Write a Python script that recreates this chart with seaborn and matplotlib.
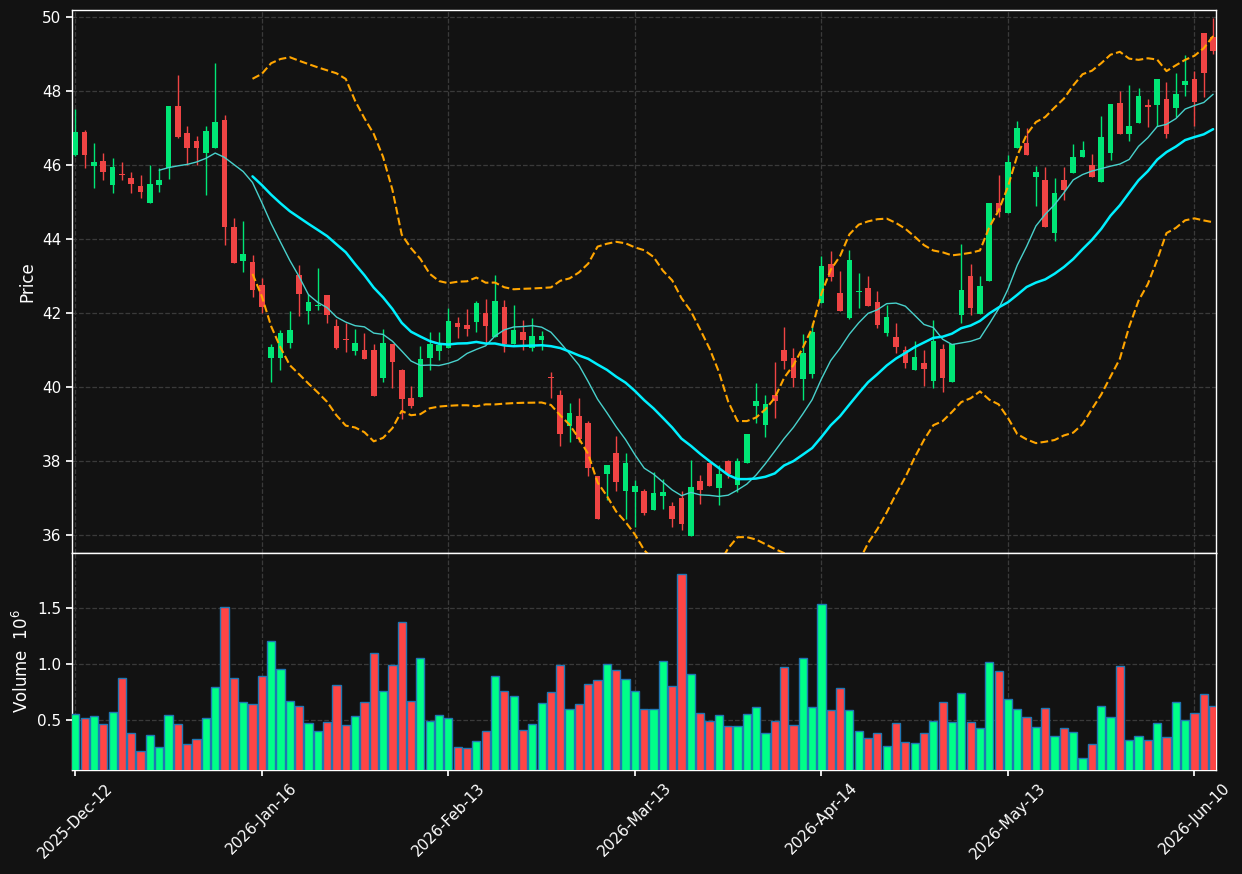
import numpy as np
import pandas as pd
import seaborn as sns
import matplotlib
matplotlib.use('Agg')
import matplotlib.pyplot as plt

# daily OHLC (123 sessions)
opens = [46.29, 46.90, 45.99, 46.12, 45.48, 45.75, 45.66, 45.44, 44.99, 45.48,
         45.94, 47.60, 46.87, 46.66, 46.34, 46.48, 47.23, 44.34, 43.40, 43.39,
         42.77, 40.80, 40.80, 41.21, 43.04, 42.06, 42.20, 42.50, 41.66, 41.31,
         40.99, 41.01, 41.01, 40.26, 41.16, 40.47, 39.71, 39.75, 40.80, 40.99,
         41.07, 41.74, 41.68, 41.77, 42.02, 41.36, 42.17, 41.17, 41.50, 41.07,
         41.27, 40.28, 39.79, 38.94, 39.23, 39.04, 37.60, 37.65, 38.21, 37.20,
         37.18, 37.20, 36.68, 37.07, 36.79, 37.01, 35.98, 37.47, 37.95, 37.29,
         38.01, 37.37, 37.96, 39.48, 38.99, 39.79, 41.01, 40.79, 40.23, 40.37,
         42.29, 43.32, 42.55, 41.88, 42.58, 42.69, 42.31, 41.47, 41.36, 41.01,
         40.48, 40.66, 40.17, 41.04, 40.14, 41.95, 43.01, 41.99, 42.86, 44.98,
         44.72, 46.46, 46.61, 45.68, 45.61, 44.16, 45.61, 45.78, 46.22, 46.02,
         45.54, 46.32, 47.69, 46.86, 47.14, 47.63, 47.62, 47.80, 47.54, 48.16,
         48.34, 49.59, 49.48]
highs = [47.53, 46.95, 46.59, 46.32, 46.19, 46.08, 45.81, 45.73, 46.00, 45.94,
         47.60, 48.43, 47.05, 46.78, 47.05, 48.77, 47.35, 44.57, 44.49, 43.57,
         42.96, 41.18, 41.54, 42.06, 43.30, 42.51, 43.22, 42.50, 41.84, 41.74,
         41.58, 41.46, 41.18, 41.58, 41.18, 40.50, 40.04, 41.12, 41.50, 41.50,
         42.14, 41.91, 42.11, 42.32, 42.38, 43.03, 42.35, 42.22, 41.83, 41.86,
         41.52, 40.40, 39.92, 39.57, 39.70, 39.09, 37.60, 37.90, 38.68, 38.23,
         37.49, 37.24, 37.71, 37.51, 36.90, 37.20, 38.03, 37.62, 37.95, 37.90,
         38.03, 38.08, 38.74, 40.11, 39.78, 40.67, 41.64, 41.07, 41.45, 41.75,
         43.55, 43.68, 43.14, 43.70, 43.08, 43.00, 42.60, 42.22, 41.74, 41.12,
         41.25, 41.00, 41.81, 41.18, 41.18, 43.86, 43.32, 43.01, 44.98, 45.74,
         46.28, 47.21, 47.01, 45.99, 45.96, 45.66, 45.96, 46.58, 46.67, 46.31,
         47.32, 47.67, 48.00, 48.17, 48.09, 47.79, 48.34, 48.26, 48.50, 48.99,
         48.54, 49.59, 49.98]
lows = [46.25, 45.94, 45.40, 45.59, 45.26, 45.59, 45.24, 45.11, 44.99, 45.29,
        45.64, 46.75, 46.00, 46.00, 45.20, 46.48, 43.84, 43.37, 43.11, 42.44,
        42.02, 40.13, 40.46, 41.07, 41.93, 41.72, 42.09, 41.75, 41.03, 40.94,
        40.86, 40.76, 39.77, 40.13, 39.97, 39.14, 39.43, 39.75, 40.46, 40.73,
        41.07, 41.32, 41.39, 41.50, 41.18, 41.36, 40.94, 41.16, 41.02, 40.99,
        41.00, 39.72, 38.40, 38.53, 38.53, 37.60, 36.43, 36.95, 37.20, 36.43,
        36.21, 36.54, 36.68, 36.70, 36.21, 36.15, 35.98, 36.84, 37.32, 36.81,
        37.56, 37.16, 37.94, 39.03, 38.66, 39.16, 40.50, 40.01, 39.65, 40.26,
        42.29, 42.87, 42.06, 41.84, 42.14, 42.20, 41.61, 41.39, 40.92, 40.53,
        40.48, 40.04, 39.99, 39.86, 40.14, 41.73, 41.95, 41.99, 42.86, 44.59,
        44.72, 46.46, 46.29, 44.91, 44.34, 43.96, 45.06, 45.78, 46.22, 45.68,
        45.54, 46.14, 46.86, 46.65, 47.14, 47.03, 47.07, 46.74, 47.30, 47.88,
        47.05, 47.84, 49.01]
closes = [46.90, 46.29, 46.09, 45.83, 45.95, 45.73, 45.50, 45.29, 45.50, 45.60,
          47.60, 46.77, 46.48, 46.48, 46.93, 47.17, 44.32, 43.37, 43.60, 42.64,
          42.17, 41.09, 41.46, 41.55, 42.53, 42.31, 42.22, 41.95, 41.07, 41.27,
          41.20, 40.77, 39.77, 41.20, 40.69, 39.67, 39.50, 40.77, 41.16, 41.15,
          41.79, 41.63, 41.58, 42.29, 41.66, 42.33, 41.16, 41.55, 41.28, 41.38,
          41.39, 40.26, 38.75, 39.31, 38.59, 37.83, 36.43, 37.90, 37.45, 37.94,
          37.32, 36.61, 37.14, 37.17, 36.45, 36.29, 37.31, 37.23, 37.32, 37.65,
          37.65, 38.01, 38.74, 39.63, 39.54, 39.64, 40.72, 40.26, 40.93, 41.50,
          43.28, 42.99, 42.06, 43.44, 42.60, 42.20, 41.69, 41.91, 41.09, 40.66,
          40.82, 40.50, 41.25, 40.26, 41.18, 42.63, 42.13, 42.74, 44.98, 44.74,
          46.09, 47.01, 46.29, 45.82, 44.34, 45.24, 45.32, 46.23, 46.42, 45.68,
          46.76, 47.67, 46.86, 47.07, 47.88, 47.57, 48.34, 46.84, 47.94, 48.28,
          47.72, 48.49, 49.08]
# volume in millions
volumes = [0.554, 0.518, 0.536, 0.464, 0.571, 0.875, 0.384, 0.223, 0.366, 0.259,
           0.545, 0.464, 0.286, 0.330, 0.518, 0.795, 1.509, 0.875, 0.661, 0.643,
           0.893, 1.205, 0.955, 0.670, 0.625, 0.473, 0.402, 0.482, 0.812, 0.455,
           0.536, 0.661, 1.098, 0.759, 0.991, 1.375, 0.670, 1.054, 0.491, 0.545,
           0.518, 0.259, 0.250, 0.313, 0.402, 0.893, 0.759, 0.714, 0.411, 0.464,
           0.652, 0.750, 0.991, 0.598, 0.643, 0.821, 0.857, 1.000, 0.946, 0.866,
           0.759, 0.598, 0.598, 1.027, 0.804, 1.804, 0.911, 0.563, 0.491, 0.545,
           0.446, 0.446, 0.554, 0.616, 0.384, 0.491, 0.973, 0.455, 1.054, 0.616,
           1.536, 0.589, 0.786, 0.589, 0.402, 0.339, 0.384, 0.268, 0.473, 0.304,
           0.295, 0.384, 0.491, 0.661, 0.482, 0.741, 0.482, 0.429, 1.018, 0.938,
           0.688, 0.598, 0.527, 0.438, 0.607, 0.357, 0.429, 0.393, 0.161, 0.286,
           0.625, 0.527, 0.982, 0.321, 0.357, 0.321, 0.473, 0.348, 0.661, 0.500,
           0.563, 0.732, 0.625]
tick_labels = ['2025-Dec-12', '2026-Jan-16', '2026-Feb-13', '2026-Mar-13',
               '2026-Apr-14', '2026-May-13', '2026-Jun-10']
tick_step = 20

df = pd.DataFrame({'Open': opens, 'High': highs, 'Low': lows,
                   'Close': closes, 'Volume': volumes})
df['i'] = np.arange(len(df))
df['up'] = df.Close >= df.Open
df['ma10'] = df.Close.rolling(10).mean()
df['ma20'] = df.Close.rolling(20).mean()
sd = df.Close.rolling(20).std()
df['bb_up'] = df.ma20 + 2 * sd
df['bb_lo'] = df.ma20 - 2 * sd

bg = '#121212'
sns.set_theme(style='dark')
plt.rcParams.update({
    'figure.facecolor': bg, 'axes.facecolor': bg, 'savefig.facecolor': bg,
    'axes.edgecolor': 'white', 'axes.labelcolor': 'white',
    'xtick.color': 'white', 'ytick.color': 'white',
    'xtick.bottom': True, 'ytick.left': True,
    'grid.color': '#3a3a3a', 'grid.linestyle': '--', 'grid.linewidth': 0.9,
    'font.size': 10,
})
plt.rcParams['font.family'] = ['DejaVu Sans']

up_c, dn_c = '#00e676', '#ef4444'
vup_c, vdn_c = '#00ff88', '#ff4545'

fig = plt.figure(figsize=(12.42, 8.74), dpi=100)
ax = fig.add_axes([0.058, 0.3673, 0.921, 0.6213])
axv = fig.add_axes([0.058, 0.119, 0.921, 0.2483], sharex=ax)

# candles
cols = np.where(df.up, up_c, dn_c)
ax.vlines(df.i, df.Low, df.High, colors=cols, linewidth=1, zorder=2)
body = (df.Close - df.Open).abs().clip(lower=0.03)
bottom = df[['Open', 'Close']].min(axis=1)
ax.bar(df.i, body, bottom=bottom, width=0.6, color=cols, linewidth=0, zorder=3)

sns.lineplot(x=df.i, y=df.ma10, ax=ax, color='#48d1cc', linewidth=1, zorder=4)
sns.lineplot(x=df.i, y=df.ma20, ax=ax, color='#00f0ff', linewidth=1.8, zorder=4)
for c in ['bb_up', 'bb_lo']:
    sns.lineplot(x=df.i, y=df[c], ax=ax, color='#ffa500', linewidth=1.5,
                 linestyle='--', zorder=4)

ax.set_ylim(35.52, 50.2)
ax.set_xlim(-0.35, 122.3)
ax.set_ylabel('Price')
ax.set_xlabel('')
ax.grid(True)
ax.tick_params(axis='x', labelbottom=False, length=0)
ax.tick_params(axis='y', length=4)

vcols = np.where(df.up, vup_c, vdn_c)
axv.bar(df.i, df.Volume, width=0.88, color=vcols, edgecolor='#1f77b4',
        linewidth=1, zorder=3)
axv.set_ylim(0.054, 1.99)
axv.set_yticks([0.5, 1.0, 1.5])
axv.set_ylabel('Volume  $10^{6}$')
axv.grid(True)
axv.set_xticks(np.arange(len(tick_labels)) * tick_step)
axv.set_xticklabels(tick_labels, rotation=45, ha='center')
axv.tick_params(axis='both', length=4)
ax.set_xticks(np.arange(len(tick_labels)) * tick_step)

for a in (ax, axv):
    for s in a.spines.values():
        s.set_color('white')
        s.set_linewidth(1)

fig.savefig('out.png', dpi=100)
